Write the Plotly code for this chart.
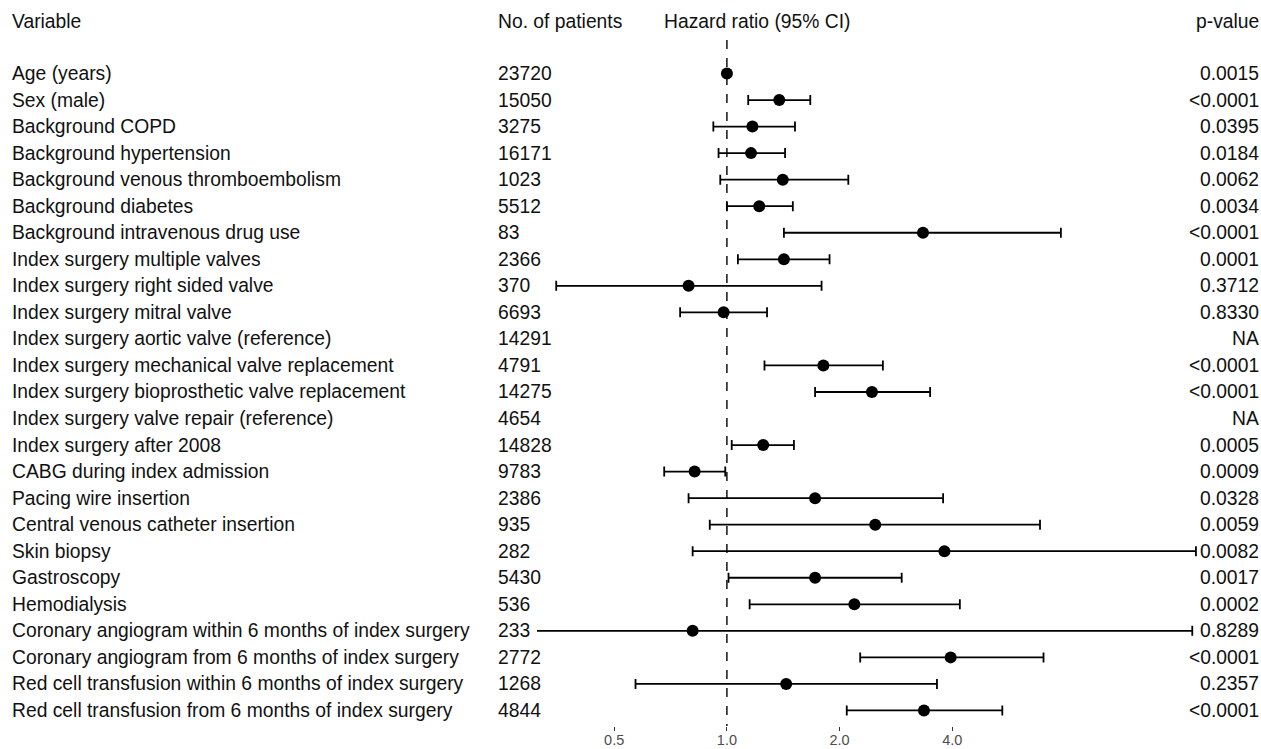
import math
import plotly.graph_objects as go

# ---- data -------------------------------------------------------------
variables = [
    "Age (years)",
    "Sex (male)",
    "Background COPD",
    "Background hypertension",
    "Background venous thromboembolism",
    "Background diabetes",
    "Background intravenous drug use",
    "Index surgery multiple valves",
    "Index surgery right sided valve",
    "Index surgery mitral valve",
    "Index surgery aortic valve (reference)",
    "Index surgery mechanical valve replacement",
    "Index surgery bioprosthetic valve replacement",
    "Index surgery valve repair (reference)",
    "Index surgery after 2008",
    "CABG during index admission",
    "Pacing wire insertion",
    "Central venous catheter insertion",
    "Skin biopsy",
    "Gastroscopy",
    "Hemodialysis",
    "Coronary angiogram within 6 months of index surgery",
    "Coronary angiogram from 6 months of index surgery",
    "Red cell transfusion within 6 months of index surgery",
    "Red cell transfusion from 6 months of index surgery",
]
n_patients = [23720, 15050, 3275, 16171, 1023, 5512, 83, 2366, 370, 6693, 14291,
              4791, 14275, 4654, 14828, 9783, 2386, 935, 282, 5430, 536, 233,
              2772, 1268, 4844]
hazard_ratio = [1.00, 1.38, 1.17, 1.16, 1.41, 1.22, 3.34, 1.42, 0.79, 0.98, None,
                1.81, 2.44, None, 1.25, 0.82, 1.72, 2.49, 3.81, 1.72, 2.19, 0.81,
                3.96, 1.44, 3.36]
ci_lower = [1.00, 1.14, 0.92, 0.95, 0.96, 1.00, 1.42, 1.07, 0.35, 0.75, None,
            1.26, 1.72, None, 1.03, 0.68, 0.79, 0.90, 0.81, 1.01, 1.15, 0.25,
            2.27, 0.57, 2.09]
ci_upper = [1.01, 1.67, 1.52, 1.43, 2.11, 1.50, 7.80, 1.88, 1.79, 1.28, None,
            2.61, 3.49, None, 1.51, 0.99, 3.78, 6.86, 17.9, 2.93, 4.19, 17.5,
            7.01, 3.64, 5.44]
p_values = ["0.0015", "<0.0001", "0.0395", "0.0184", "0.0062", "0.0034", "<0.0001",
            "0.0001", "0.3712", "0.8330", "NA", "<0.0001", "<0.0001", "NA", "0.0005",
            "0.0009", "0.0328", "0.0059", "0.0082", "0.0017", "0.0002", "0.8289",
            "<0.0001", "0.2357", "<0.0001"]
x_ticks = [0.5, 1.0, 2.0, 4.0]
x_tick_labels = ["0.5", "1.0", "2.0", "4.0"]

# ---- geometry ---------------------------------------------------------
W, H = 1261, 749
FONT = "Liberation Sans, Arial, sans-serif"
TEXT_COLOR = "#111111"
TEXT_SIZE = 19.3
rows = list(range(len(variables)))
row_top_px, row_step_px = 73.5, 26.54
plot_bottom_px = 726.0
y_top = (0 - row_top_px) / row_step_px
y_bottom = (plot_bottom_px - row_top_px) / row_step_px
header_y = (21.5 - row_top_px) / row_step_px

px_left, px_right = 537.0, 1200.0
px_per_decade = 112.7 / math.log10(2)
log_left = math.log10(0.3110)
log_right = log_left + (px_right - px_left) / px_per_decade

err_plus = [None if h is None else u - h for h, u in zip(hazard_ratio, ci_upper)]
err_minus = [None if h is None else h - l for h, l in zip(hazard_ratio, ci_lower)]

fig = go.Figure()
fig.add_trace(go.Scatter(
    x=hazard_ratio, y=rows, mode="markers",
    marker=dict(symbol="circle", size=12, color="black"),
    error_x=dict(type="data", symmetric=False, array=err_plus, arrayminus=err_minus,
                 color="black", thickness=1.8, width=5),
    showlegend=False, hoverinfo="skip",
))

# reference line at HR = 1
fig.add_shape(type="line", xref="x", yref="y", x0=1, x1=1,
              y0=(40 - row_top_px) / row_step_px, y1=y_bottom,
              line=dict(color="black", width=1.4, dash="dash"))

ann = []
def txt(x_px, y, s, anchor="left", size=TEXT_SIZE, color=TEXT_COLOR):
    ann.append(dict(xref="paper", yref="y", x=x_px / W, y=y, text=s, showarrow=False,
                    xanchor=anchor, yanchor="middle",
                    font=dict(family=FONT, size=size, color=color)))

txt(10, header_y, "Variable")
txt(496, header_y, "No. of patients")
txt(757, header_y, "Hazard ratio (95% CI)", anchor="center")
txt(1261, header_y, "p-value", anchor="right")
for r, v, n, p in zip(rows, variables, n_patients, p_values):
    txt(10, r, v)
    txt(496, r, str(n))
    txt(1261, r, p, anchor="right")

fig.update_layout(
    width=W, height=H,
    margin=dict(l=0, r=0, t=0, b=H - plot_bottom_px, pad=0, autoexpand=False),
    paper_bgcolor="white", plot_bgcolor="white",
    annotations=ann,
    xaxis=dict(type="log", domain=[px_left / W, px_right / W],
               range=[log_left, log_right], automargin=False,
               tickvals=x_ticks, ticktext=x_tick_labels,
               ticks="outside", ticklen=4, tickwidth=1.2, tickcolor="#333333",
               ticklabelstandoff=-3,
               tickfont=dict(family=FONT, size=14.5, color="#4d4d4d"),
               showgrid=False, zeroline=False, showline=False),
    yaxis=dict(range=[y_bottom, y_top], automargin=False, showticklabels=False,
               showgrid=False, zeroline=False, showline=False, ticks=""),
)

fig.write_html("out.html")
